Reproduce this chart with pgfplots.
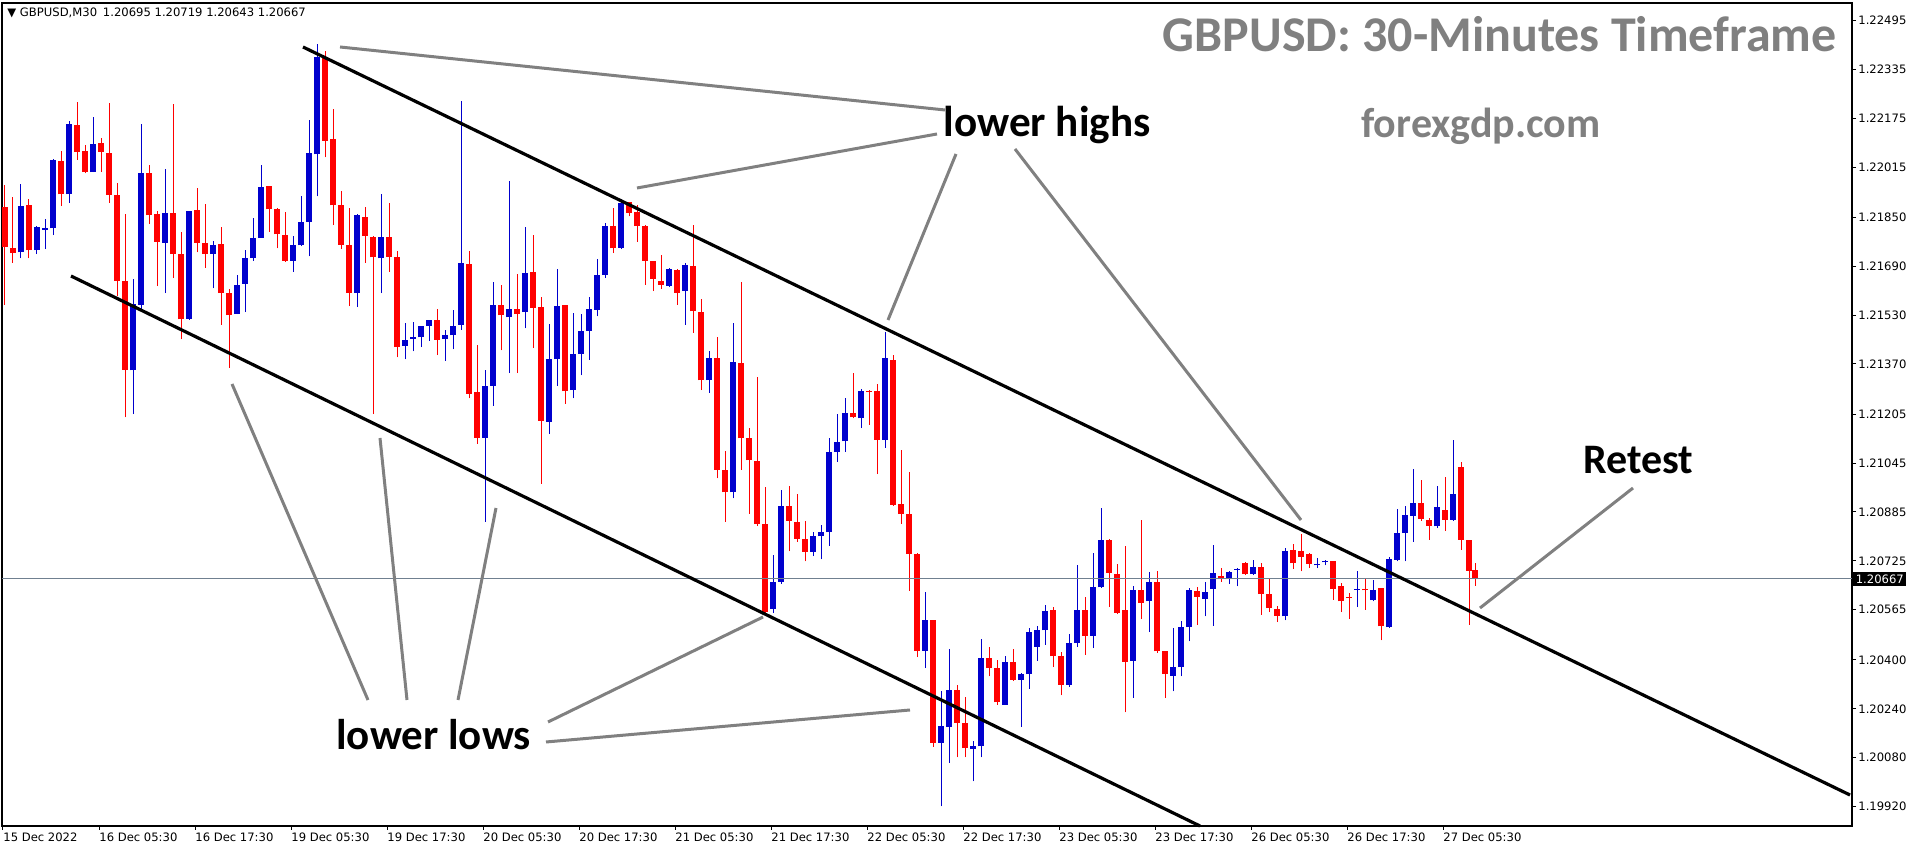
\documentclass[border=0pt]{standalone}
\usepackage{fontspec}
\usepackage{pgfplots}
\usepackage{pgfplotstable}
\pgfplotsset{compat=1.18}
\newfontfamily\dejavu{DejaVu Sans}
\newfontfamily\carlito{Carlito}
\newcommand\tickfont{\dejavu\fontsize{5.8}{7}\selectfont}
\definecolor{cblue}{RGB}{0,0,205}
\definecolor{cred}{RGB}{255,0,0}
\definecolor{lgrey}{RGB}{128,128,128}
\definecolor{pline}{RGB}{112,128,144}

% pairs of 30-minute bars: x = bar index, o h l c
\pgfplotstableread{
x o h l c
4.5 1.21736 1.21960 1.21716 1.21888
8.5 1.21742 1.21821 1.21730 1.21818
10.5 1.21810 1.21846 1.21746 1.21815
12.5 1.21814 1.22043 1.21792 1.22039
16.5 1.21926 1.22166 1.21898 1.22155
22.5 1.21999 1.22181 1.21999 1.22091
32.5 1.21349 1.21650 1.21206 1.21566
34.5 1.21564 1.22157 1.21547 1.21997
40.5 1.21767 1.22008 1.21602 1.21866
46.5 1.21519 1.21872 1.21515 1.21872
52.5 1.21730 1.21774 1.21618 1.21760
58.5 1.21533 1.21662 1.21533 1.21629
60.5 1.21633 1.21742 1.21540 1.21717
62.5 1.21717 1.21850 1.21709 1.21784
64.5 1.21784 1.22022 1.21784 1.21949
72.5 1.21708 1.21791 1.21673 1.21759
74.5 1.21759 1.21919 1.21756 1.21835
76.5 1.21835 1.22170 1.21723 1.22060
78.5 1.22057 1.22418 1.21919 1.22377
88.5 1.21602 1.21860 1.21556 1.21857
94.5 1.21716 1.21928 1.21602 1.21785
100.5 1.21429 1.21505 1.21385 1.21450
102.5 1.21453 1.21508 1.21411 1.21457
104.5 1.21457 1.21494 1.21425 1.21494
106.5 1.21494 1.21515 1.21446 1.21515
110.5 1.21453 1.21482 1.21381 1.21464
112.5 1.21464 1.21547 1.21418 1.21495
114.5 1.21498 1.22233 1.21482 1.21702
120.5 1.21129 1.21351 1.20853 1.21298
122.5 1.21298 1.21639 1.21233 1.21563
126.5 1.21523 1.21971 1.21340 1.21549
130.5 1.21540 1.21820 1.21487 1.21668
136.5 1.21181 1.21502 1.21142 1.21385
138.5 1.21385 1.21680 1.21298 1.21560
142.5 1.21284 1.21537 1.21257 1.21402
144.5 1.21402 1.21535 1.21333 1.21478
146.5 1.21478 1.21591 1.21384 1.21551
148.5 1.21547 1.21715 1.21526 1.21661
150.5 1.21661 1.21833 1.21653 1.21822
154.5 1.21751 1.21912 1.21746 1.21898
166.5 1.21626 1.21684 1.21622 1.21680
170.5 1.21609 1.21701 1.21498 1.21695
176.5 1.21316 1.21411 1.21275 1.21388
182.5 1.20949 1.21505 1.20930 1.21377
192.5 1.20567 1.20743 1.20554 1.20657
194.5 1.20657 1.20958 1.20650 1.20905
202.5 1.20754 1.20820 1.20740 1.20805
204.5 1.20805 1.20843 1.20730 1.20820
206.5 1.20818 1.21126 1.20774 1.21083
208.5 1.21083 1.21206 1.21050 1.21115
210.5 1.21116 1.21257 1.21082 1.21209
214.5 1.21192 1.21289 1.21160 1.21280
220.5 1.21122 1.21475 1.21096 1.21388
230.5 1.20431 1.20622 1.20373 1.20530
234.5 1.20128 1.20297 1.19920 1.20185
236.5 1.20182 1.20437 1.20064 1.20302
242.5 1.20108 1.20136 1.20002 1.20117
244.5 1.20117 1.20470 1.20081 1.20408
250.5 1.20253 1.20412 1.20253 1.20392
254.5 1.20335 1.20357 1.20182 1.20354
256.5 1.20354 1.20505 1.20305 1.20491
258.5 1.20444 1.20510 1.20397 1.20497
260.5 1.20497 1.20579 1.20450 1.20562
266.5 1.20319 1.20485 1.20313 1.20455
268.5 1.20455 1.20712 1.20444 1.20565
272.5 1.20479 1.20750 1.20439 1.20638
274.5 1.20638 1.20898 1.20636 1.20794
282.5 1.20397 1.20643 1.20277 1.20628
286.5 1.20592 1.20687 1.20491 1.20657
292.5 1.20348 1.20504 1.20297 1.20377
294.5 1.20377 1.20529 1.20346 1.20507
296.5 1.20508 1.20636 1.20461 1.20630
300.5 1.20601 1.20657 1.20543 1.20622
302.5 1.20633 1.20777 1.20512 1.20685
306.5 1.20665 1.20690 1.20650 1.20687
308.5 1.20696 1.20701 1.20641 1.20698
312.5 1.20681 1.20728 1.20679 1.20704
320.5 1.20543 1.20767 1.20530 1.20756
328.5 1.20710 1.20734 1.20701 1.20714
330.5 1.20720 1.20728 1.20710 1.20726
338.5 1.20630 1.20692 1.20573 1.20632
342.5 1.20595 1.20663 1.20592 1.20628
346.5 1.20508 1.20739 1.20505 1.20731
348.5 1.20728 1.20894 1.20723 1.20816
350.5 1.20816 1.20905 1.20723 1.20876
352.5 1.20872 1.21025 1.20788 1.20916
358.5 1.20838 1.20971 1.20832 1.20901
362.5 1.20859 1.21121 1.20857 1.20945
}\up

\pgfplotstableread{
x o h l c
0.5 1.21884 1.21956 1.21563 1.21753
2.5 1.21749 1.21917 1.21702 1.21733
6.5 1.21891 1.21912 1.21716 1.21742
14.5 1.22036 1.22069 1.21887 1.21926
18.5 1.22153 1.22229 1.22040 1.22064
20.5 1.22069 1.22088 1.21995 1.21999
24.5 1.22095 1.22112 1.21999 1.22066
26.5 1.22061 1.22226 1.21898 1.21923
28.5 1.21923 1.21964 1.21593 1.21643
30.5 1.21643 1.21862 1.21195 1.21351
36.5 1.21997 1.22022 1.21828 1.21857
38.5 1.21860 1.21871 1.21625 1.21771
42.5 1.21866 1.22222 1.21651 1.21730
44.5 1.21730 1.21804 1.21451 1.21516
48.5 1.21876 1.21948 1.21736 1.21767
50.5 1.21767 1.21895 1.21686 1.21730
54.5 1.21763 1.21818 1.21498 1.21602
56.5 1.21602 1.21615 1.21358 1.21529
66.5 1.21953 1.21953 1.21804 1.21877
68.5 1.21877 1.21882 1.21749 1.21795
70.5 1.21792 1.21869 1.21705 1.21708
80.5 1.22377 1.22397 1.22047 1.22102
82.5 1.22108 1.22206 1.21825 1.21890
84.5 1.21890 1.21937 1.21746 1.21760
86.5 1.21760 1.21880 1.21560 1.21602
90.5 1.21853 1.21884 1.21701 1.21791
92.5 1.21786 1.21791 1.21206 1.21719
96.5 1.21785 1.21898 1.21673 1.21722
98.5 1.21722 1.21740 1.21392 1.21425
108.5 1.21515 1.21549 1.21399 1.21450
116.5 1.21698 1.21740 1.21257 1.21273
118.5 1.21278 1.21432 1.21108 1.21129
124.5 1.21563 1.21629 1.21415 1.21529
128.5 1.21549 1.21666 1.21340 1.21533
132.5 1.21671 1.21792 1.21422 1.21553
134.5 1.21557 1.21591 1.20977 1.21184
140.5 1.21564 1.21564 1.21239 1.21280
152.5 1.21822 1.21880 1.21733 1.21749
156.5 1.21901 1.21901 1.21854 1.21864
158.5 1.21868 1.21891 1.21770 1.21822
160.5 1.21822 1.21825 1.21629 1.21708
162.5 1.21708 1.21708 1.21609 1.21650
164.5 1.21643 1.21726 1.21615 1.21629
168.5 1.21677 1.21680 1.21564 1.21604
172.5 1.21691 1.21825 1.21473 1.21542
174.5 1.21542 1.21584 1.21284 1.21316
178.5 1.21391 1.21457 1.20995 1.21023
180.5 1.21023 1.21085 1.20853 1.20949
184.5 1.21374 1.21640 1.21023 1.21126
186.5 1.21126 1.21160 1.20880 1.21054
188.5 1.21053 1.21326 1.20839 1.20846
190.5 1.20847 1.20967 1.20554 1.20556
196.5 1.20905 1.20971 1.20756 1.20857
198.5 1.20853 1.20944 1.20788 1.20798
200.5 1.20798 1.20857 1.20723 1.20754
212.5 1.21209 1.21340 1.21192 1.21195
216.5 1.21280 1.21284 1.21171 1.21277
218.5 1.21280 1.21305 1.21009 1.21122
222.5 1.21384 1.21399 1.20905 1.20909
224.5 1.20912 1.21089 1.20846 1.20878
226.5 1.20878 1.21016 1.20627 1.20747
228.5 1.20747 1.20749 1.20409 1.20430
232.5 1.20530 1.20530 1.20115 1.20128
238.5 1.20302 1.20319 1.20081 1.20193
240.5 1.20193 1.20278 1.20081 1.20111
246.5 1.20408 1.20444 1.20346 1.20373
248.5 1.20373 1.20401 1.20253 1.20261
252.5 1.20392 1.20436 1.20332 1.20335
262.5 1.20565 1.20575 1.20377 1.20412
264.5 1.20412 1.20425 1.20284 1.20319
270.5 1.20565 1.20608 1.20417 1.20479
276.5 1.20794 1.20796 1.20575 1.20685
278.5 1.20682 1.20714 1.20550 1.20554
280.5 1.20565 1.20772 1.20228 1.20395
284.5 1.20628 1.20859 1.20534 1.20586
288.5 1.20655 1.20692 1.20423 1.20428
290.5 1.20431 1.20431 1.20275 1.20354
298.5 1.20627 1.20639 1.20515 1.20608
304.5 1.20674 1.20701 1.20657 1.20665
310.5 1.20717 1.20720 1.20679 1.20681
314.5 1.20704 1.20717 1.20548 1.20616
316.5 1.20616 1.20665 1.20557 1.20570
318.5 1.20567 1.20576 1.20524 1.20545
322.5 1.20761 1.20781 1.20698 1.20717
324.5 1.20756 1.20812 1.20690 1.20739
326.5 1.20747 1.20752 1.20701 1.20714
332.5 1.20725 1.20725 1.20597 1.20632
334.5 1.20641 1.20652 1.20557 1.20592
336.5 1.20606 1.20619 1.20534 1.20603
340.5 1.20630 1.20668 1.20565 1.20628
344.5 1.20636 1.20636 1.20464 1.20510
354.5 1.20916 1.20990 1.20857 1.20862
356.5 1.20859 1.20865 1.20794 1.20840
360.5 1.20892 1.21000 1.20824 1.20859
364.5 1.21032 1.21050 1.20761 1.20794
366.5 1.20794 1.20794 1.20515 1.20693
368 1.20695 1.20719 1.20643 1.20667
}\down

\begin{document}
\begin{tikzpicture}
\begin{axis}[
    scale only axis,
    width=925pt, height=411.5pt,
    xmin=-0.25, xmax=462.25,
    ymin=1.19856, ymax=1.22553,
    axis line style={line width=0.6pt},
    tick align=outside,
    major tick length=2pt,
    tick style={black, line width=0.5pt},
    xtick pos=bottom,
    ytick pos=right,
    yticklabel pos=right,
    xtick={0,24,48,72,96,120,144,168,192,216,240,264,288,312,336,360},
    xticklabels={15 Dec 2022,16 Dec 05:30,16 Dec 17:30,19 Dec 05:30,19 Dec 17:30,20 Dec 05:30,20 Dec 17:30,21 Dec 05:30,21 Dec 17:30,22 Dec 05:30,22 Dec 17:30,23 Dec 05:30,23 Dec 17:30,26 Dec 05:30,26 Dec 17:30,27 Dec 05:30},
    ytick={1.22495,1.22335,1.22175,1.22015,1.21850,1.21690,1.21530,1.21370,1.21205,1.21045,1.20885,1.20725,1.20565,1.20400,1.20240,1.20080,1.19920},
    yticklabels={1.22495,1.22335,1.22175,1.22015,1.21850,1.21690,1.21530,1.21370,1.21205,1.21045,1.20885,1.20725,1.20565,1.20400,1.20240,1.20080,1.19920},
    xticklabel style={font=\tickfont, anchor=north west, inner sep=0pt, yshift=-1pt},
    yticklabel style={font=\tickfont, anchor=west, inner sep=0pt, xshift=1pt},
]
% wicks
\addplot[draw=none, mark=none, forget plot,
    error bars/.cd, y dir=plus, y explicit, error mark=none,
    error bar style={draw=cblue, line width=0.5pt}]
    table[x=x, y=l, y error plus expr={\thisrow{h}-\thisrow{l}}] {\up};
\addplot[draw=none, mark=none, forget plot,
    error bars/.cd, y dir=plus, y explicit, error mark=none,
    error bar style={draw=cred, line width=0.5pt}]
    table[x=x, y=l, y error plus expr={\thisrow{h}-\thisrow{l}}] {\down};
% bodies
\addplot[draw=none, mark=none, forget plot,
    error bars/.cd, y dir=plus, y explicit, error mark=none,
    error bar style={draw=cblue, line width=2.6pt}]
    table[x=x, y=o, y error plus expr={max(\thisrow{c}-\thisrow{o},0.00003)}] {\up};
\addplot[draw=none, mark=none, forget plot,
    error bars/.cd, y dir=plus, y explicit, error mark=none,
    error bar style={draw=cred, line width=2.6pt}]
    table[x=x, y=c, y error plus expr={max(\thisrow{o}-\thisrow{c},0.00003)}] {\down};
\end{axis}

% annotation layer, in pixels of the 1916x850 picture
\begin{scope}[shift={(current axis.north west)}, xshift=-1pt, yshift=1.5pt, x=0.5pt, y=-0.5pt]
  % current price line and marker
  \draw[pline, line width=0.5pt] (2,579) -- (1852,579);
  \node[fill=black, text=white, font=\tickfont, inner sep=1.2pt, anchor=west] at (1853,579) {1.20667};
  % channel
  \draw[black, line width=1.6pt] (303,47) -- (1850,795);
  \draw[black, line width=1.6pt] (71,276) -- (1200,826);
  % pointers
  \begin{scope}[lgrey, line width=1.5pt]
    \draw (340,47) -- (945,110);
    \draw (637,188) -- (937,134);
    \draw (888,320) -- (956,154);
    \draw (1015,149) -- (1301,520);
    \draw (1480,608) -- (1633,488);
    \draw (232,384) -- (368,700);
    \draw (380,438) -- (407,700);
    \draw (496,508) -- (458,700);
    \draw (548,722) -- (763,617);
    \draw (546,742) -- (910,710);
  \end{scope}
  % texts
  \node[anchor=west, font=\tickfont, inner sep=0pt] at (7,13) {▼ GBPUSD,M30\enspace 1.20695 1.20719 1.20643 1.20667};
  \node[anchor=base east, font=\carlito\bfseries\fontsize{25}{25}\selectfont, text=lgrey, inner sep=0pt] at (1837,52) {GBPUSD: 30-Minutes Timeframe};
  \node[anchor=base, font=\carlito\bfseries\fontsize{21}{21}\selectfont, text=lgrey, inner sep=0pt] at (1481,138) {forexgdp.com};
  \node[anchor=base west, font=\carlito\bfseries\fontsize{21.6}{22}\selectfont, inner sep=0pt] at (943,137) {lower highs};
  \node[anchor=base west, font=\carlito\bfseries\fontsize{21.5}{22}\selectfont, inner sep=0pt] at (336,750) {lower lows};
  \node[anchor=base west, font=\carlito\bfseries\fontsize{21}{21}\selectfont, inner sep=0pt] at (1583,474) {Retest};
  \pgfresetboundingbox
  \path (0,0) rectangle (1916,850);
\end{scope}
\end{tikzpicture}
\end{document}
